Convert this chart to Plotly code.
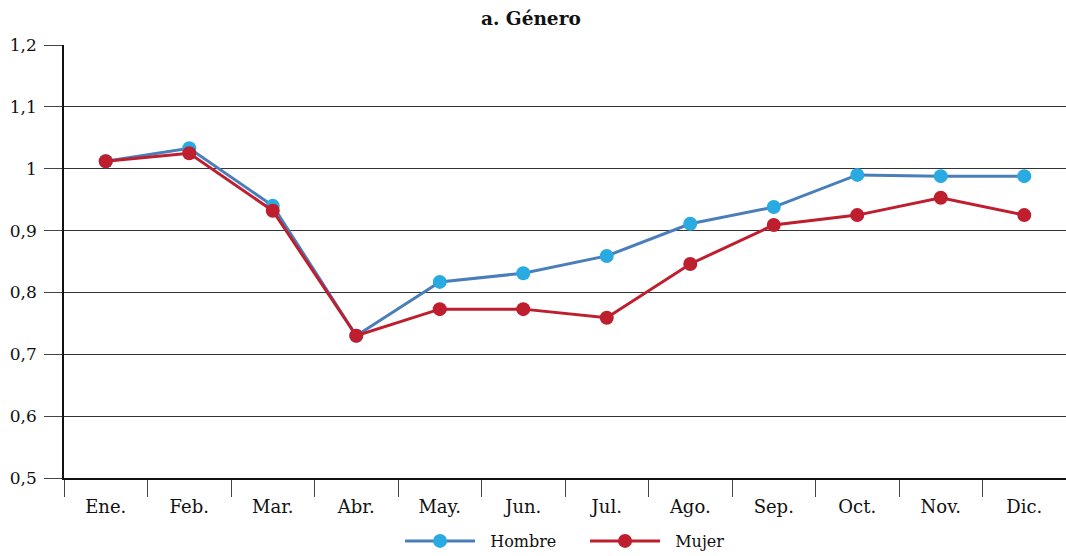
import plotly.graph_objects as go

months = ["Ene.", "Feb.", "Mar.", "Abr.", "May.", "Jun.", "Jul.", "Ago.", "Sep.", "Oct.", "Nov.", "Dic."]
hombre = [1.012, 1.033, 0.940, 0.730, 0.817, 0.831, 0.859, 0.911, 0.938, 0.990, 0.988, 0.988]
mujer = [1.012, 1.025, 0.932, 0.730, 0.773, 0.773, 0.759, 0.846, 0.909, 0.925, 0.953, 0.925]
names = ["Hombre", "Mujer"]

fig = go.Figure()
fig.add_trace(go.Scatter(x=months, y=hombre, name="\u00a0\u00a0" + names[0], mode="lines+markers",
                         line=dict(color="#4A7EBB", width=3),
                         marker=dict(color="#29ABE2", size=14)))
fig.add_trace(go.Scatter(x=months, y=mujer, name="\u00a0\u00a0" + names[1], mode="lines+markers",
                         line=dict(color="#BE1E2D", width=3),
                         marker=dict(color="#BE1E2D", size=14)))

font = "DejaVu Serif"
fig.update_layout(
    width=1066, height=556,
    margin=dict(l=64, r=0, t=45, b=78, autoexpand=False),
    paper_bgcolor="white", plot_bgcolor="white",
    separators=",.",
    font=dict(family=font, size=17, color="#111"),
    title=dict(text="<b>a. Género</b>", x=0.498, xanchor="center", y=0.966, yanchor="middle",
               font=dict(family=font, size=18.5, color="#111")),
    showlegend=True,
    legend=dict(orientation="h", x=0.52, xanchor="center", y=-0.1455, yanchor="middle",
                font=dict(family=font, size=16), itemwidth=70, entrywidth=100,
                traceorder="normal"),
    xaxis=dict(type="category", tickson="boundaries", ticks="outside", ticklen=17,
               tickcolor="#444", showline=True, linecolor="#111", linewidth=1.5,
               showgrid=False, range=[-0.5, 11.5], automargin=False,
               ticklabelstandoff=12, tickfont=dict(size=18)),
    yaxis=dict(range=[0.5, 1.2], dtick=0.1, tick0=0.5, ticks="outside", ticklen=18,
               tickcolor="#444", showgrid=True, gridcolor="#333", gridwidth=1,
               showline=True, linecolor="#111", linewidth=1.5, zeroline=False,
               automargin=False, ticklabelstandoff=4, tickfont=dict(size=17)),
)
fig.write_html("out.html", config={"displayModeBar": False},
               post_script="document.body.style.margin='0';document.body.style.overflow='hidden';")
